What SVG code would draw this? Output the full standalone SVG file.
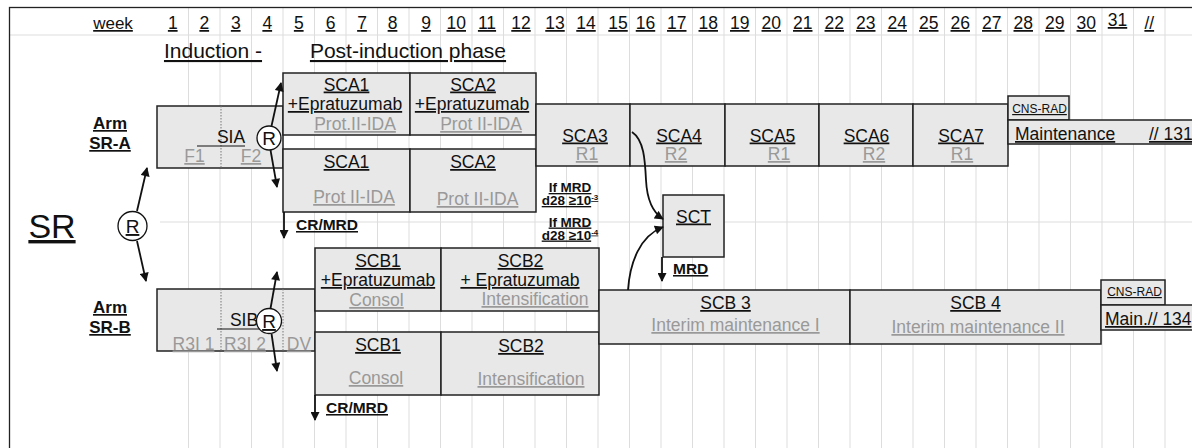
<svg xmlns="http://www.w3.org/2000/svg" width="1192" height="448" viewBox="0 0 1192 448">
<style>
text{font-family:"Liberation Sans",Arial,sans-serif;font-size:17.5px;fill:#111;text-anchor:middle;text-decoration:underline}
.g{fill:#999}
.b{font-weight:bold}
.s{text-anchor:start}
.box{fill:#e8e8e8;stroke:#222;stroke-width:1.5}
.dot{stroke:#777;stroke-width:1;stroke-dasharray:1.5 1.5}
.grid{stroke:#ddd;stroke-width:1;fill:none}
.arr{stroke:#111;stroke-width:1.8;fill:none;marker-end:url(#ah)}
.circ{fill:#fff;stroke:#111;stroke-width:1.3}
.ul{stroke:#111;stroke-width:1.2}
</style>
<defs>
<marker id="ah" viewBox="0 0 10 10" refX="9" refY="5" markerWidth="10" markerHeight="9" markerUnits="userSpaceOnUse" orient="auto"><path d="M0 0L10 5L0 10z" fill="#111"/></marker>
</defs>
<rect width="1192" height="448" fill="#fff"/>
<g id="grid">
<path class="grid" d="M9 35H1192M160 222H1192M188.5 7V448M220 7V448M251.5 7V448M283 7V448M314.5 7V448M346 7V448M377.5 7V448M409 7V448M440.5 7V448M472 7V448M503.5 7V448M535 7V448M566.5 7V448M598 7V448M629.5 7V448M661 7V448M692.5 7V448M724 7V448M755.5 7V448M787 7V448M818.5 7V448M850 7V448M881.5 7V448M913 7V448M944.5 7V448M976 7V448M1007.5 7V448M1039 7V448M1070.5 7V448M1102 7V448M1133.5 7V448M1165 7V448"/>
<rect x="9.5" y="7.5" width="1200" height="460" fill="none" stroke="#222" stroke-width="1.3"/>
</g>
<g id="header">
<text x="113" y="29" style="font-size:17px">week</text>
<text x="172.75" y="29">1</text><text x="204.25" y="29">2</text><text x="235.75" y="29">3</text><text x="267.25" y="29">4</text>
<text x="298.75" y="29">5</text><text x="330.5" y="29">6</text><text x="362" y="29">7</text><text x="392.5" y="29">8</text>
<text x="426" y="29">9</text><text x="456.25" y="29">10</text><text x="487" y="29">11</text><text x="521" y="29">12</text>
<text x="555" y="29">13</text><text x="586" y="29">14</text><text x="618" y="29">15</text><text x="645.5" y="29">16</text>
<text x="676.75" y="29">17</text><text x="708.25" y="29">18</text><text x="739.75" y="29">19</text><text x="771.25" y="29">20</text>
<text x="802.75" y="29">21</text><text x="834.25" y="29">22</text><text x="865.75" y="29">23</text><text x="897.25" y="29">24</text>
<text x="928.75" y="29">25</text><text x="960.25" y="29">26</text><text x="991.75" y="29">27</text><text x="1023.25" y="29">28</text>
<text x="1054.75" y="29">29</text><text x="1086.25" y="29">30</text><text x="1117.5" y="26">31</text><text x="1149.25" y="29">//</text>
<text x="213" y="58" style="font-size:21px">Induction -</text>
<text x="408" y="58" style="font-size:21px">Post-induction phase</text>
</g>
<g id="labels">
<text x="110" y="129" class="b" style="font-size:17px">Arm</text>
<text x="110" y="149" class="b" style="font-size:17px">SR-A</text>
<text x="110" y="313" class="b" style="font-size:17px">Arm</text>
<text x="110" y="333" class="b" style="font-size:17px">SR-B</text>
<text x="52" y="238" style="font-size:34px">SR</text>
</g>
<g id="rand">
<circle class="circ" cx="132.5" cy="226" r="14.5"/>
<text x="132.5" y="233" style="font-size:19px">R</text>
</g>
<g id="SIA">
<rect class="box" x="157" y="106" width="126" height="62"/>
<path class="dot" d="M221 106V168"/>
<text x="231" y="143" style="text-decoration:none">SIA</text>
<path class="ul" d="M197 146H245"/>
<text x="194.5" y="162" class="g">F1</text>
<text x="251" y="162" class="g">F2</text>
<circle class="circ" cx="269" cy="138" r="12"/>
<text x="269" y="145" style="font-size:19px;text-decoration:none">R</text>
</g>
<g id="SCA1E">
<rect class="box" x="283" y="73" width="127" height="62"/>
<text x="346.5" y="90.5">SCA1</text>
<text x="345" y="110">+Epratuzumab</text>
<text x="355" y="130" class="g">Prot.II-IDA</text>
</g>
<g id="SCA2E">
<rect class="box" x="410" y="73" width="126" height="62"/>
<text x="473" y="90.5">SCA2</text>
<text x="472" y="110">+Epratuzumab</text>
<text x="481" y="130" class="g">Prot II-IDA</text>
</g>
<g id="SCA1">
<rect class="box" x="283" y="149" width="127" height="63"/>
<text x="346.5" y="168">SCA1</text>
<text x="354" y="203" class="g">Prot II-IDA</text>
</g>
<g id="SCA2">
<rect class="box" x="410" y="149" width="126" height="63"/>
<text x="473" y="168">SCA2</text>
<text x="477.5" y="205" class="g">Prot II-IDA</text>
</g>
<g id="SCA3"><rect class="box" x="536" y="104" width="94" height="62"/><text x="585" y="141.5">SCA3</text><text x="587" y="160" class="g">R1</text></g>
<g id="SCA4"><rect class="box" x="630" y="104" width="95" height="62"/><text x="679" y="141.5">SCA4</text><text x="676" y="160" class="g">R2</text></g>
<g id="SCA5"><rect class="box" x="725" y="104" width="94" height="62"/><text x="772.5" y="141.5">SCA5</text><text x="779" y="160" class="g">R1</text></g>
<g id="SCA6"><rect class="box" x="819" y="104" width="94" height="62"/><text x="866.5" y="141.5">SCA6</text><text x="874" y="160" class="g">R2</text></g>
<g id="SCA7"><rect class="box" x="913" y="104" width="95" height="62"/><text x="961" y="141.5">SCA7</text><text x="962" y="160" class="g">R1</text></g>
<g id="CNSA"><rect class="box" x="1008" y="96" width="61" height="24"/><text x="1039.5" y="113" style="font-size:12px">CNS-RAD</text></g>
<g id="MaintA"><rect class="box" x="1008" y="120" width="200" height="24"/><text x="1015" y="140" class="s">Maintenance</text><text x="1149" y="140" class="s">// 131</text></g>
<g id="mrdA">
<text x="570" y="192" class="b" style="font-size:13.5px">If MRD</text>
<text x="570" y="205" class="b" style="font-size:13.5px">d28 ≥10<tspan dy="-5" style="font-size:8px">-3</tspan></text>
<text x="570" y="226.5" class="b" style="font-size:13.5px">If MRD</text>
<text x="570" y="239.5" class="b" style="font-size:13.5px">d28 ≥10<tspan dy="-5" style="font-size:8px">-4</tspan></text>
<text x="296" y="230" class="b s" style="font-size:15.5px">CR/MRD</text>
</g>
<g id="SCT">
<rect class="box" x="663" y="195" width="61" height="62"/>
<text x="693.5" y="222.5">SCT</text>
<text x="673" y="274" class="b s" style="font-size:15.5px">MRD</text>
</g>
<g id="SIB">
<rect class="box" x="157" y="289" width="158" height="62"/>
<path class="dot" d="M221 289V351M283 289V351"/>
<text x="244" y="326" style="text-decoration:none">SIB</text>
<path class="ul" d="M217 329H278"/>
<text x="193.5" y="349.5" class="g">R3I 1</text>
<text x="245" y="349.5" class="g">R3I 2</text>
<text x="299" y="349.5" class="g">DV</text>
<circle class="circ" cx="269" cy="321" r="12.5"/>
<text x="269" y="328" style="font-size:19px">R</text>
</g>
<g id="SCB1E">
<rect class="box" x="315" y="248" width="126" height="63"/>
<text x="378" y="267">SCB1</text>
<text x="378" y="286">+Epratuzumab</text>
<text x="376.5" y="306" class="g">Consol</text>
</g>
<g id="SCB2E">
<rect class="box" x="441" y="248" width="158" height="63"/>
<text x="520.5" y="267">SCB2</text>
<text x="520" y="286">+ Epratuzumab</text>
<text x="535" y="305" class="g">Intensification</text>
</g>
<g id="SCB1">
<rect class="box" x="315" y="332" width="126" height="63"/>
<text x="378" y="351">SCB1</text>
<text x="376" y="384" class="g">Consol</text>
</g>
<g id="SCB2">
<rect class="box" x="441" y="332" width="158" height="63"/>
<text x="521" y="352">SCB2</text>
<text x="531" y="385" class="g">Intensification</text>
<text x="326" y="413" class="b s" style="font-size:15.5px">CR/MRD</text>
</g>
<g id="SCB3"><rect class="box" x="599" y="290" width="251" height="54"/><text x="725.5" y="309">SCB 3</text><text x="735.5" y="331" class="g">Interim maintenance I</text></g>
<g id="SCB4"><rect class="box" x="850" y="290" width="251" height="54"/><text x="975.5" y="309">SCB 4</text><text x="978" y="333" class="g">Interim maintenance II</text></g>
<g id="CNSB"><rect class="box" x="1101" y="280" width="64" height="25"/><text x="1134.5" y="296" style="font-size:12px">CNS-RAD</text></g>
<g id="MaintB"><rect class="box" x="1101" y="305" width="110" height="25"/><text x="1105" y="325" class="s">Main.// 134</text></g>
<g id="connectors">
<path class="arr" d="M137 211L147 168"/>
<path class="arr" d="M137 241L146 281"/>
<path class="arr" d="M271.5 126L281 83"/>
<path class="arr" d="M270.5 150L277 187"/>
<path class="arr" d="M270.5 308.5L277 272"/>
<path class="arr" d="M271.5 333.5L277 371"/>
<path class="arr" d="M284 212V238"/>
<path class="arr" d="M315 395V420"/>
<path class="arr" d="M662 257V281"/>
<path class="arr" d="M632 132C644 140 645 160 646 180C647 200 652 212 663 219"/>
<path class="arr" d="M628 290C630 262 640 236 663 227"/>
</g>
</svg>
